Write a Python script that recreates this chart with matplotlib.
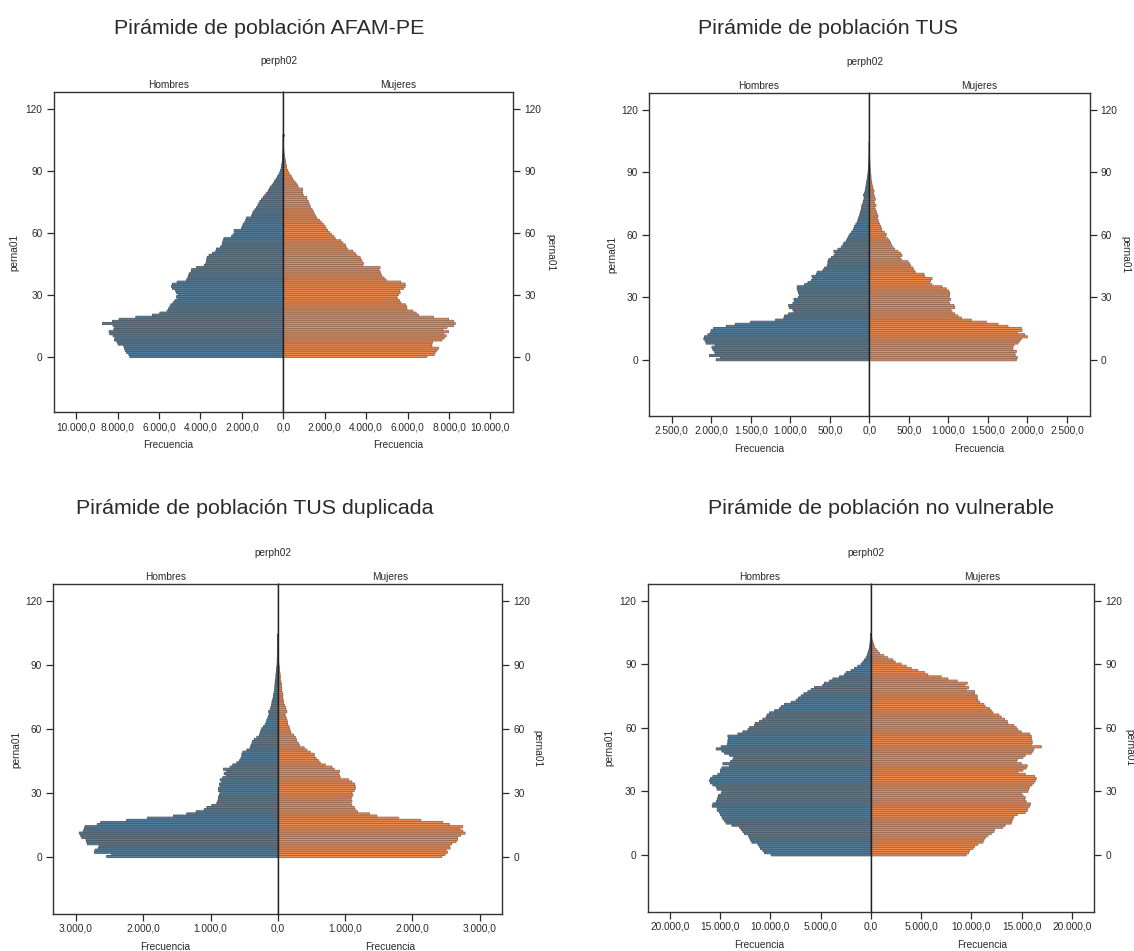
import numpy as np
import matplotlib
matplotlib.use("Agg")
import matplotlib.pyplot as plt
from matplotlib.ticker import FuncFormatter, FixedLocator

plt.rcParams['font.family'] = ['Liberation Sans', 'DejaVu Sans']

# ---------------- data (frequency by age, 0..N) ----------------
titles = ["Pirámide de población AFAM-PE", "Pirámide de población TUS",
          "Pirámide de población TUS duplicada", "Pirámide de población no vulnerable"]

men_afam = [7415, 7464, 7576, 7641, 7673, 7705, 7979, 8028, 8157, 8124, 8221, 8382, 8415, 8189, 8141, 8221, 8737, 8253, 7931, 7125,
            6319, 5964, 5610, 5545, 5481, 5432, 5320, 5239, 5126, 5158, 5078, 5158, 5207, 5352, 5400, 5352, 5126, 4675, 4610, 4578,
            4546, 4449, 4433, 4191, 3820, 3740, 3708, 3691, 3675, 3579, 3417, 3256, 3224, 3031, 2950, 2934, 2902, 2869, 2499, 2418,
            2337, 2370, 2015, 1967, 1934, 1854, 1805, 1773, 1531, 1483, 1451, 1370, 1290, 1225, 1177, 1128, 1048, 967, 886, 806,
            725, 677, 613, 532, 451, 403, 322, 274, 210, 161, 129, 97, 81, 64, 48, 32, 25, 20, 15, 10,
            8, 5, 4, 3, 2, 2, 1, 1]
women_afam = [6932, 7286, 7335, 7415, 7496, 7173, 7173, 7205, 7657, 7770, 7867, 7738, 7979, 7705, 7899, 8221, 8302, 8221, 7979, 7254,
              6529, 6416, 6255, 5964, 5964, 5900, 5674, 5610, 5513, 5481, 5561, 5642, 5610, 5803, 5884, 5884, 5674, 4965, 4868, 4755,
              4707, 4675, 4594, 4675, 3837, 3869, 3804, 3756, 3708, 3546, 3466, 3353, 3095, 3031, 2998, 2869, 2772, 2515, 2450, 2337,
              2225, 2144, 2063, 2015, 1934, 1838, 1741, 1612, 1564, 1499, 1451, 1402, 1322, 1290, 1241, 1209, 1144, 1128, 967, 935,
              919, 935, 725, 677, 612, 516, 451, 403, 322, 258, 210, 161, 161, 129, 113, 97, 81, 64, 48, 32,
              30, 20, 15, 10, 5, 3, 2, 60]

men_tus = [1936, 1881, 2020, 1948, 1957, 1978, 1990, 1948, 2062, 2075, 2092, 2083, 2041, 2007, 1999, 1969, 1809, 1695, 1501, 1185,
           1080, 1071, 1020, 953, 966, 1008, 1020, 966, 945, 953, 894, 881, 894, 902, 911, 911, 818, 776, 734, 713,
           725, 670, 658, 586, 565, 531, 523, 523, 514, 481, 447, 430, 447, 396, 354, 333, 320, 291, 278, 261,
           249, 228, 207, 194, 186, 169, 152, 143, 135, 122, 118, 110, 101, 97, 93, 80, 76, 67, 63, 72,
           59, 51, 46, 42, 38, 34, 30, 25, 21, 17, 15, 12, 10, 8, 6, 5, 4, 3, 3, 2, 2, 2, 1, 1, 1]
women_tus = [1860, 1872, 1847, 1839, 1860, 1818, 1809, 1830, 1881, 1902, 1923, 1999, 1965, 1872, 1931, 1923, 1754, 1628, 1480, 1290,
             1164, 1122, 1080, 1046, 1029, 1080, 1071, 1016, 1004, 1029, 1008, 1016, 1016, 1004, 974, 919, 793, 763, 776, 793,
             700, 692, 582, 565, 552, 523, 510, 489, 405, 384, 413, 396, 363, 320, 299, 278, 270, 257, 236, 202,
             215, 194, 160, 152, 143, 131, 118, 110, 101, 110, 97, 89, 76, 67, 84, 67, 59, 76, 67, 59,
             51, 59, 46, 42, 34, 30, 25, 21, 21, 17, 15, 12, 10, 8, 8, 6, 5, 4, 3, 3, 2, 2, 1, 1, 1]

men_dup = [2542, 2468, 2725, 2715, 2666, 2651, 2829, 2839, 2849, 2914, 2928, 2948, 2889, 2874, 2864, 2681, 2631, 2245, 1937, 1551,
           1353, 1214, 1095, 1055, 981, 907, 892, 882, 882, 867, 857, 882, 882, 857, 867, 832, 857, 818, 768, 798,
           758, 808, 709, 669, 609, 570, 550, 535, 535, 520, 461, 411, 401, 386, 377, 352, 312, 273, 263, 253,
           238, 213, 188, 173, 164, 149, 139, 124, 139, 114, 104, 94, 89, 84, 74, 64, 64, 54, 50, 45,
           45, 40, 40, 35, 30, 30, 25, 20, 20, 15, 12, 10, 10, 8, 6, 5, 5, 4, 3, 2, 2, 2, 1, 1, 1]
women_dup = [2438, 2487, 2522, 2502, 2562, 2552, 2587, 2651, 2671, 2671, 2720, 2785, 2750, 2710, 2750, 2552, 2453, 2126, 1794, 1472,
             1363, 1184, 1150, 1135, 1100, 1085, 1100, 1085, 1100, 1115, 1100, 1135, 1150, 1150, 1140, 1100, 1050, 927, 917, 902,
             917, 837, 803, 704, 629, 605, 570, 540, 540, 481, 431, 391, 322, 307, 282, 273, 258, 233, 193, 183,
             173, 164, 144, 144, 134, 124, 109, 104, 134, 119, 114, 99, 84, 84, 74, 69, 74, 64, 54, 59,
             50, 54, 45, 35, 35, 35, 30, 25, 20, 20, 15, 12, 10, 10, 8, 6, 5, 4, 3, 3, 2, 2, 1, 1, 1]

men_nv = [9921, 10584, 10750, 10983, 11082, 11248, 11845, 11978, 12078, 12177, 12575, 12741, 12907, 13073, 13836, 14400, 14566, 14732, 14832, 14964,
          15064, 15296, 15296, 15794, 15727, 15396, 15296, 15230, 15163, 14898, 14832, 15296, 15396, 15727, 15960, 16059, 15960, 15727, 15230, 14964,
          14964, 14832, 14068, 14732, 13969, 13737, 13637, 14068, 14566, 14832, 15396, 14898, 14300, 14234, 14234, 14168, 14234, 13239, 12741, 12244,
          12078, 11580, 11513, 11082, 10750, 10418, 10319, 10087, 9589, 9091, 8925, 8594, 7930, 7432, 7200, 6935, 6669, 6271, 5939, 5607,
          4778, 4612, 4114, 3783, 3119, 2621, 2455, 1958, 1626, 1294, 962, 796, 630, 465, 365, 299, 232, 166, 133, 100,
          66, 50, 35, 25, 15]
women_nv = [9490, 9722, 9821, 10153, 10319, 10651, 11148, 11248, 11380, 11646, 11978, 12243, 12310, 13140, 13372, 13969, 14035, 14134, 14234, 14566,
            15362, 15561, 15628, 15794, 15893, 15462, 15296, 15362, 15130, 14964, 15628, 15694, 15794, 16026, 16225, 16358, 16457, 16291, 15362, 14632,
            15130, 15462, 15561, 14964, 14466, 14566, 15130, 15362, 15960, 16126, 16225, 16955, 15960, 16059, 16026, 15960, 15960, 15794, 14964, 14632,
            14466, 14234, 13637, 13571, 13305, 12973, 12741, 12144, 11978, 11812, 11380, 11248, 10817, 10651, 10584, 10584, 10319, 10319, 9490, 9722,
            9324, 9589, 8594, 7665, 7001, 5674, 5342, 4678, 4015, 3517, 3019, 2422, 2190, 1692, 1294, 863, 697, 531, 365, 299,
            232, 150, 100, 60, 30]

men_all = [men_afam, men_tus, men_dup, men_nv]
women_all = [women_afam, women_tus, women_dup, women_nv]
x_limits = [11100, 2787, 3336, 22245]
x_steps = [2000, 500, 1000, 5000]
x_tick_max = [10000, 2500, 3000, 20000]
y_ticks = [0, 30, 60, 90, 120]

# ---------------- layout (pixels in a 1134 x 951 figure) ----------------
W, H = 1134, 951
# left, center, right, top, bottom
boxes = [(53.6, 283.2, 513.2, 92.0, 412.3),
         (648.9, 869.3, 1089.6, 93.0, 416.0),
         (53.2, 277.9, 502.1, 584.0, 914.0),
         (647.5, 870.8, 1094.4, 583.7, 912.0)]
title_pos = [(269.6, 34.5), (828.0, 34.5), (255.0, 514.5), (881.0, 514.5)]
perph_x = [278.6, 865.0, 272.5, 866.4]
perna_left_x = [14.3, 612.3, 16.0, 609.4]
perna_right_x = [550.0, 1125.5, 537.5, 1129.0]

BLUE = '#527f9d'
BLUE_EDGE = '#4e5a64'
ORANGE = '#ee8b4f'
ORANGE_EDGE = '#976b56'
SPINE = '#333333'
TXT = '#2a2a2a'
FS = 7.3

fig = plt.figure(figsize=(W / 100, H / 100), dpi=100)


def fmt(v, pos=None):
    s = f"{abs(v):,.1f}"
    return s.replace(',', 'X').replace('.', ',').replace('X', '.')


for i in range(4):
    l, c, r, t, b = boxes[i]
    axL = fig.add_axes([l / W, 1 - b / H, (c - l) / W, (b - t) / H])
    axR = fig.add_axes([c / W, 1 - b / H, (r - c) / W, (b - t) / H])
    m = np.array(men_all[i], dtype=float)
    w = np.array(women_all[i], dtype=float)
    bl = axL.barh(np.arange(len(m)), m, height=1.0, color=BLUE, edgecolor=BLUE_EDGE, linewidth=0.65, zorder=2)
    br = axR.barh(np.arange(len(w)), w, height=1.0, color=ORANGE, edgecolor=ORANGE_EDGE, linewidth=0.65, zorder=2)
    for p in list(bl) + list(br):
        p.set_snap(False)
    xm = x_limits[i]
    axL.set_xlim(xm, 0)
    axR.set_xlim(0, xm)
    for ax in (axL, axR):
        ax.set_ylim(-27, 128)
        for s in ax.spines.values():
            s.set_color(SPINE)
            s.set_linewidth(1.0)
            s.set_zorder(5)
        ax.tick_params(axis='both', labelsize=FS, colors=TXT, length=5, width=0.9, pad=2)
        ax.xaxis.set_major_formatter(FuncFormatter(fmt))
        ax.set_xlabel('Frecuencia', fontsize=FS, color=TXT, labelpad=6)
    ticks = list(np.arange(x_steps[i], x_tick_max[i] + 1, x_steps[i]))
    axL.xaxis.set_major_locator(FixedLocator(ticks))
    axR.xaxis.set_major_locator(FixedLocator([0] + ticks))
    axL.set_yticks(y_ticks)
    axR.set_yticks(y_ticks)
    axL.tick_params(axis='y', left=True, right=False, labelleft=True, labelright=False, pad=3)
    axR.tick_params(axis='y', left=False, right=True, labelleft=False, labelright=True, pad=3)
    axR.spines['left'].set_color('#222222')
    axL.spines['right'].set_color('#222222')
    axL.set_title('Hombres', fontsize=FS, color=TXT, pad=3)
    axR.set_title('Mujeres', fontsize=FS, color=TXT, pad=3)
    ymid = 1 - (t + b) / 2 / H
    fig.text(perna_left_x[i] / W, ymid, 'perna01', rotation=90, ha='center', va='center', fontsize=FS, color=TXT)
    fig.text(perna_right_x[i] / W, ymid, 'perna01', rotation=270, ha='center', va='center', fontsize=FS, color=TXT)
    fig.text(perph_x[i] / W, 1 - (t - 31) / H, 'perph02', ha='center', va='center', fontsize=FS, color=TXT)
    tx, ty = title_pos[i]
    fig.text(tx / W, 1 - ty / H, titles[i], ha='center', va='baseline', fontsize=15.4, color='#2a2a2a')

fig.savefig('out.png', dpi=100, facecolor='white')
